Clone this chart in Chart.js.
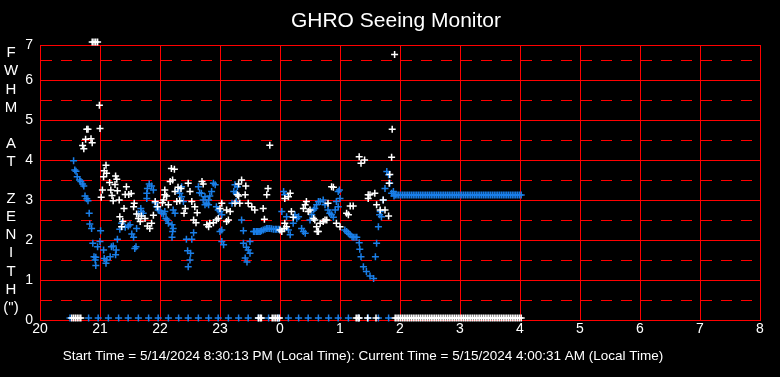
<!DOCTYPE html>
<html>
<head>
<meta charset="utf-8">
<script src="https://cdn.jsdelivr.net/npm/chart.js@4.4.0/dist/chart.umd.min.js"></script>
<style>
  html, body { margin: 0; padding: 0; background: #000; }
  #seeingChart { display: block; background: #000; }
</style>
</head>
<body>
<canvas id="seeingChart" width="780" height="377"></canvas>
<script>
// Hours since 20:00 are stored as 20..32 (32 = 8 AM next day)
// White: FWHM readings [hour, arcsec]
const whitePoints = [
  [20.71,4.36],[20.73,4.28],[20.76,4.52],[20.78,4.77],[20.80,4.77],[20.85,4.53],[20.87,4.43],
  [20.87,6.95],[20.90,6.95],[20.93,6.95],[20.96,6.95],[20.99,5.37],[21.00,4.79],
  [21.02,3.07],[21.04,3.25],[21.06,3.58],[21.07,3.73],[21.10,3.87],[21.11,3.67],[21.16,3.44],
  [21.18,3.25],[21.20,3.11],[21.22,2.98],[21.25,3.39],[21.26,3.60],[21.28,3.52],[21.29,3.23],
  [21.32,3.00],[21.33,2.58],[21.36,2.33],[21.38,2.46],[21.40,2.79],[21.42,3.14],[21.44,3.33],
  [21.48,3.14],[21.52,3.16],[21.56,2.83],[21.57,2.92],[21.61,2.65],[21.64,2.54],[21.67,2.46],
  [21.69,2.60],[21.75,2.54],[21.79,2.35],[21.83,2.29],[21.86,2.42],[21.89,2.62],[21.92,2.96],
  [21.96,2.83],[22.04,2.93],[22.06,3.00],[22.08,3.25],[22.08,3.13],[22.11,3.10],[22.14,2.88],
  [22.17,3.46],[22.19,3.79],[22.21,3.50],[22.24,3.77],[22.25,3.21],[22.28,2.96],[22.30,3.32],
  [22.33,2.98],[22.35,3.29],[22.40,2.67],[22.42,2.79],[22.47,3.42],[22.50,3.21],[22.53,2.96],
  [22.56,2.50],[22.58,2.83],[22.60,2.43],[22.62,2.68],[22.70,3.46],[22.72,3.40],[22.78,2.38],
  [22.81,2.33],[22.83,2.42],[22.89,2.43],[22.94,2.50],[22.97,2.54],[23.00,2.79],[23.03,2.92],
  [23.11,2.46],[23.11,2.75],[23.14,2.50],[23.17,2.71],[23.25,2.92],[23.29,3.13],[23.31,3.40],
  [23.31,3.10],[23.33,2.92],[23.36,3.50],[23.42,3.13],[23.43,3.35],[23.47,2.92],[23.53,2.83],
  [23.58,2.75],[23.72,2.79],[23.74,2.52],[23.78,3.13],[23.80,3.29],[23.83,4.37],
  [24.00,2.25],[24.03,2.21],[24.07,2.29],[24.08,2.42],[24.11,2.33],[24.08,3.04],[24.14,3.08],
  [24.17,3.17],[24.19,2.71],[24.22,2.57],[24.39,2.79],[24.42,2.88],[24.44,2.96],[24.47,2.71],
  [24.50,2.75],[24.56,2.54],[24.58,2.50],[24.61,2.33],[24.62,2.21],[24.64,2.21],[24.67,2.42],
  [24.72,2.46],[24.75,2.50],[24.78,2.50],[24.80,2.92],[24.86,3.33],[24.89,3.32],[24.94,2.42],
  [25.00,2.33],[25.11,2.67],[25.14,2.63],[25.17,2.85],[25.22,2.85],[25.32,4.08],[25.35,3.92],
  [25.41,4.00],[25.47,3.13],[25.47,3.04],[25.50,3.13],[25.58,3.17],[25.61,2.88],[25.67,2.75],
  [25.72,3.00],[25.75,2.75],[25.81,2.60],[25.82,3.42],[25.83,3.64],[25.86,4.07],[25.87,4.77],
  [25.91,6.64]
];

// Blue: second FWHM trace [hour, arcsec]
const bluePoints = [
  [20.56,3.98],[20.58,3.75],[20.60,3.72],[20.62,3.58],[20.66,3.50],[20.68,3.46],[20.71,3.40],
  [20.73,3.35],[20.75,3.10],[20.78,3.03],[20.80,2.98],[20.82,2.67],[20.83,2.40],[20.86,2.29],
  [20.88,1.92],[20.90,1.58],[20.92,1.50],[20.93,1.57],[20.93,1.36],[20.96,1.83],[21.00,1.96],
  [21.01,2.23],[21.06,1.75],[21.07,1.54],[21.10,1.42],[21.11,1.50],[21.17,1.58],[21.19,1.83],
  [21.22,1.85],[21.26,1.63],[21.27,1.75],[21.29,2.02],[21.33,2.27],[21.36,2.42],[21.42,2.32],
  [21.47,2.35],[21.50,2.38],[21.53,2.15],[21.56,2.07],[21.58,1.79],[21.60,1.83],[21.61,2.29],
  [21.64,2.65],[21.68,2.79],[21.69,2.71],[21.72,2.67],[21.78,3.04],[21.78,3.17],[21.79,3.29],
  [21.82,3.40],[21.86,3.35],[21.89,3.25],[21.92,2.93],[21.94,2.83],[21.97,2.75],[22.00,2.73],
  [22.03,2.67],[22.06,2.65],[22.08,2.71],[22.10,2.54],[22.12,2.50],[22.14,2.42],[22.20,2.38],
  [22.22,2.29],[22.21,2.21],[22.20,2.07],[22.25,2.67],[22.22,2.75],[22.30,3.25],[22.33,3.17],
  [22.36,3.08],[22.36,3.33],[22.39,2.96],[22.44,2.02],[22.46,1.73],[22.47,1.33],[22.50,1.50],
  [22.51,1.67],[22.53,2.02],[22.56,2.18],[22.64,3.33],[22.66,3.18],[22.69,3.17],[22.72,3.00],
  [22.75,2.88],[22.75,3.08],[22.78,2.92],[22.81,3.00],[22.81,2.88],[22.83,3.10],[22.86,3.21],
  [22.89,3.42],[22.92,3.38],[22.94,2.83],[22.97,2.75],[23.00,2.71],[23.03,2.63],[23.00,2.21],
  [23.03,2.25],[23.03,1.96],[23.06,1.88],[23.20,2.92],[23.23,3.21],[23.25,3.38],[23.27,3.17],
  [23.27,2.96],[23.29,3.33],[23.36,2.50],[23.39,2.23],[23.39,1.92],[23.42,1.55],[23.44,1.82],
  [23.45,1.45],[23.47,1.75],[23.50,1.67],[23.50,1.96],[23.56,2.21],[23.58,2.21],[23.61,2.21],
  [23.63,2.21],[23.65,2.21],[23.67,2.21],[23.69,2.23],[23.72,2.25],[23.75,2.27],[23.78,2.29],
  [23.80,2.29],[23.83,2.29],[23.86,2.28],[23.89,2.27],[23.92,2.27],[23.94,2.27],[23.97,2.27],
  [24.00,2.27],[24.03,2.71],[24.06,3.21],[24.08,3.13],[24.11,2.58],[24.14,2.25],[24.17,2.13],
  [24.22,2.42],[24.25,2.63],[24.28,2.54],[24.31,2.58],[24.36,2.29],[24.39,2.21],[24.42,2.17],
  [24.50,2.50],[24.53,2.63],[24.56,2.75],[24.58,2.79],[24.61,2.88],[24.64,2.96],[24.67,2.96],
  [24.72,3.00],[24.75,2.88],[24.80,2.75],[24.83,2.67],[24.86,2.63],[24.89,2.57],[24.92,2.75],
  [24.94,2.96],[24.97,2.83],[24.97,3.21],[24.99,3.25],[25.00,3.04],[25.08,2.25],[25.11,2.21],
  [25.14,2.17],[25.17,2.13],[25.20,2.08],[25.22,2.07],[25.25,2.07],[25.28,2.07],[25.32,1.93],
  [25.33,1.77],[25.35,1.58],[25.39,1.33],[25.44,1.21],[25.50,1.10],[25.56,1.04],[25.59,1.58],
  [25.61,1.92],[25.64,2.33],[25.67,2.71],[25.66,2.63],[25.69,2.58],[25.72,3.00],[25.75,3.29],
  [25.78,3.71],[25.81,3.63],[25.83,3.42],[25.86,3.17],[25.89,3.21],[25.90,3.10]
];

// Readings with no value, drawn along the bottom of the plot
const blueZeroHours = [
  20.50,20.81,20.97,21.14,21.31,21.47,21.64,21.81,21.97,22.14,22.31,22.47,22.64,22.81,22.97,
  23.14,23.31,23.47,23.64,23.81,23.97,24.14,24.31,24.47,24.64,24.81,24.97,25.14,25.31,25.47,
  25.64,25.81
];
const whiteZeroHours = [
  20.53,20.56,20.59,20.62,20.65,20.68,23.64,23.67,23.69,23.87,23.90,23.93,23.96,23.99,
  25.27,25.30,25.32,25.46,25.60
];

// After ~1:55 AM the white trace drops out and the blue trace holds steady
const holdHours = [
  25.92,25.95,25.98,26.01,26.04,26.07,26.10,26.13,26.16,26.19,26.22,26.25,26.28,26.31,26.34,
  26.37,26.40,26.43,26.46,26.49,26.52,26.55,26.58,26.61,26.64,26.67,26.70,26.73,26.76,26.79,
  26.82,26.85,26.88,26.91,26.94,26.97,27.00,27.03,27.06,27.09,27.12,27.15,27.18,27.21,27.24,
  27.27,27.30,27.33,27.36,27.39,27.42,27.45,27.48,27.51,27.54,27.57,27.60,27.63,27.66,27.69,
  27.72,27.75,27.78,27.81,27.84,27.87,27.90,27.93,27.96,27.99,28.02
];
const holdValue = 3.125;
const zeroLevel = 0.05;

// y frame top sits a little under 7; the top line carries the "7" label
const yTop = 6.875;
const yGridValues = [0, 0.5, 1, 1.5, 2, 2.5, 3, 3.5, 4, 4.5, 5, 5.5, 6, 6.5, yTop];
const yLabelLetters = ['F', 'W', 'H', 'M', '', 'A', 'T', '', 'Z', 'E', 'N', 'I', 'T', 'H', '(")'];
const chartTitle = 'GHRO Seeing Monitor';
const footerText = 'Start Time = 5/14/2024 8:30:13 PM (Local Time): Current Time = 5/15/2024 4:00:31 AM (Local Time)';

const FONT = '"Liberation Sans", Arial, sans-serif';
const BLUE = '#1a7fe8';
const RED = '#ff0000';

const toXY = pts => pts.map(p => ({ x: p[0], y: p[1] }));
const atLevel = (hours, v) => hours.map(h => ({ x: h, y: v }));

// Title, vertical axis caption and footer
const textPlugin = {
  id: 'seeingText',
  afterDraw(chart) {
    const c = chart.ctx;
    c.save();
    c.fillStyle = '#fff';
    c.textAlign = 'center';
    c.textBaseline = 'middle';
    c.font = '21px ' + FONT;
    c.fillText(chartTitle, 396, 21);
    c.font = '15px ' + FONT;
    yLabelLetters.forEach((s, i) => c.fillText(s, 11, 53 + i * 18.2));
    c.font = '13.5px ' + FONT;
    c.fillText(footerText, 363, 356);
    c.restore();
  }
};

Chart.defaults.font.family = FONT;

const pointStyle = color => ({
  pointStyle: 'cross',
  pointRadius: 3.5,
  pointHoverRadius: 3.5,
  borderWidth: 1.5,
  borderColor: color,
  backgroundColor: color,
  showLine: false,
  clip: false
});

new Chart(document.getElementById('seeingChart'), {
  type: 'scatter',
  data: {
    datasets: [
      Object.assign({ label: 'white', data: toXY(whitePoints) }, pointStyle('#ffffff')),
      Object.assign({ label: 'white zero', data: atLevel(whiteZeroHours.concat(holdHours), zeroLevel) }, pointStyle('#ffffff')),
      Object.assign({ label: 'blue', data: toXY(bluePoints) }, pointStyle(BLUE)),
      Object.assign({ label: 'blue hold', data: atLevel(holdHours, holdValue) }, pointStyle(BLUE)),
      Object.assign({ label: 'blue zero', data: atLevel(blueZeroHours, zeroLevel) }, pointStyle(BLUE))
    ]
  },
  options: {
    responsive: false,
    animation: false,
    devicePixelRatio: 1,
    layout: { padding: { top: 45, right: 20, left: 0, bottom: 0 } },
    plugins: {
      legend: { display: false },
      tooltip: { enabled: false },
      title: { display: false }
    },
    scales: {
      x: {
        type: 'linear',
        min: 20,
        max: 32,
        afterFit: s => { s.height = 57; },
        ticks: {
          stepSize: 1,
          color: '#fff',
          font: { size: 14 },
          padding: 1,
          maxRotation: 0,
          autoSkip: false,
          callback: v => String(v % 24)
        },
        grid: { color: RED, lineWidth: 1, drawTicks: false },
        border: { color: RED, width: 1 }
      },
      y: {
        type: 'linear',
        min: 0,
        max: yTop + 1e-6, // tiny nudge so 5.5 doesn't round one pixel up
        afterFit: s => { s.width = 40; },
        afterBuildTicks: s => { s.ticks = yGridValues.map(v => ({ value: v })); },
        ticks: {
          color: '#fff',
          font: { size: 14 },
          padding: 7,
          autoSkip: false,
          callback: v => (v === yTop ? '7' : (Number.isInteger(v) ? String(v) : ''))
        },
        grid: { color: RED, lineWidth: 1, drawTicks: false },
        border: {
          color: RED,
          width: 1,
          dash: ctx => (ctx.tick && !Number.isInteger(ctx.tick.value) && ctx.tick.value !== yTop ? [11, 9] : [])
        }
      }
    }
  },
  plugins: [textPlugin]
});
</script>
</body>
</html>
